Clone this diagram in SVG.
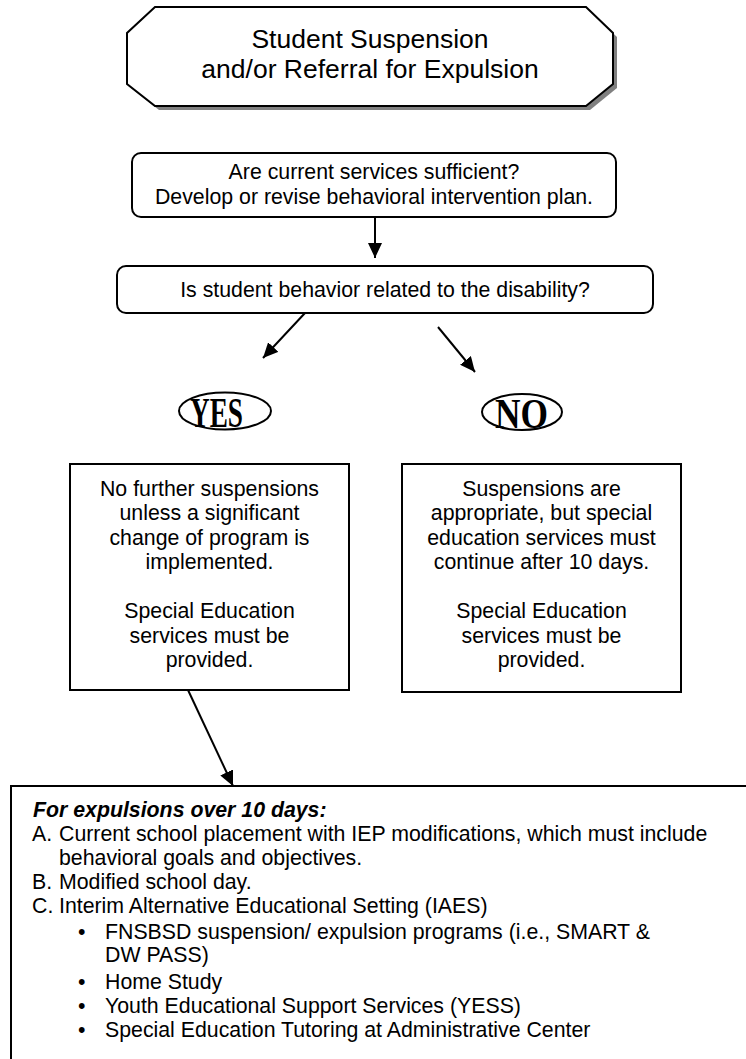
<svg xmlns="http://www.w3.org/2000/svg" width="746" height="1059" viewBox="0 0 746 1059">
<style>
.t{font-family:"Liberation Sans",Arial,sans-serif;font-size:21.3px;fill:#000}
.c{text-anchor:middle}
.title{font-family:"Liberation Sans",Arial,sans-serif;font-size:26.5px;fill:#000;text-anchor:middle}
.yn{font-family:"Liberation Serif","Times New Roman",serif;font-weight:bold;font-size:42px;fill:#000}
.box{fill:#fff;stroke:#000;stroke-width:2}
.ln{stroke:#000;stroke-width:2;fill:none}
</style>
<defs>
<marker id="ah" markerUnits="userSpaceOnUse" markerWidth="16" markerHeight="14" refX="15" refY="7" orient="auto">
<path d="M0,0 L15,7 L0,14 Z" fill="#000"/>
</marker>
</defs>
<rect width="746" height="1059" fill="#fff"/>
<g id="title">
<polygon points="159,11 590,11 617,37 617,88 590,110 159,110 131,88 131,37" fill="#808080"/>
<polygon class="box" points="155,7 586,7 613,33 613,84 586,106 155,106 127,84 127,33"/>
<text class="title" x="370" y="48">Student Suspension</text>
<text class="title" x="370" y="78">and/or Referral for Expulsion</text>
</g>
<g id="services">
<rect class="box" x="132" y="153" width="484" height="64" rx="9"/>
<text class="t c" x="374" y="179">Are current services sufficient?</text>
<text class="t c" x="374" y="204">Develop or revise behavioral intervention plan.</text>
</g>
<g id="related">
<rect class="box" x="117" y="266" width="536" height="47" rx="9"/>
<text class="t c" x="385" y="297">Is student behavior related to the disability?</text>
</g>
<g id="yes">
<ellipse class="box" cx="225" cy="411" rx="46" ry="18.5"/>
<text class="yn" x="190" y="427" textLength="53" lengthAdjust="spacingAndGlyphs">YES</text>
</g>
<g id="no">
<ellipse class="box" cx="522" cy="412" rx="40" ry="18"/>
<text class="yn" x="495" y="428" textLength="53" lengthAdjust="spacingAndGlyphs">NO</text>
</g>
<g id="yes-box">
<rect class="box" x="70" y="464" width="279" height="226"/>
<text class="t c" x="209.5" y="495.5">No further suspensions</text>
<text class="t c" x="209.5" y="520">unless a significant</text>
<text class="t c" x="209.5" y="544.5">change of program is</text>
<text class="t c" x="209.5" y="569">implemented.</text>
<text class="t c" x="209.5" y="618">Special Education</text>
<text class="t c" x="209.5" y="642.5">services must be</text>
<text class="t c" x="209.5" y="667">provided.</text>
</g>
<g id="no-box">
<rect class="box" x="402" y="464" width="279" height="228"/>
<text class="t c" x="541.5" y="495.5">Suspensions are</text>
<text class="t c" x="541.5" y="520">appropriate, but special</text>
<text class="t c" x="541.5" y="544.5">education services must</text>
<text class="t c" x="541.5" y="569">continue after 10 days.</text>
<text class="t c" x="541.5" y="618">Special Education</text>
<text class="t c" x="541.5" y="642.5">services must be</text>
<text class="t c" x="541.5" y="667">provided.</text>
</g>
<g id="expulsion">
<rect class="box" x="11" y="786" width="740" height="290"/>
<text class="t" x="33" y="817" font-weight="bold" font-style="italic">For expulsions over 10 days:</text>
<text class="t" x="32" y="841">A.</text>
<text class="t" x="59" y="841">Current school placement with IEP modifications, which must include</text>
<text class="t" x="59" y="865">behavioral goals and objectives.</text>
<text class="t" x="32" y="889">B.</text>
<text class="t" x="59" y="889">Modified school day.</text>
<text class="t" x="32" y="913">C.</text>
<text class="t" x="59" y="913">Interim Alternative Educational Setting (IAES)</text>
<text class="t" x="78" y="939">•</text>
<text class="t" x="105" y="939">FNSBSD suspension/ expulsion programs (i.e., SMART &amp;</text>
<text class="t" x="105" y="962">DW PASS)</text>
<text class="t" x="78" y="989">•</text>
<text class="t" x="105" y="989">Home Study</text>
<text class="t" x="78" y="1013">•</text>
<text class="t" x="105" y="1013">Youth Educational Support Services (YESS)</text>
<text class="t" x="78" y="1037">•</text>
<text class="t" x="105" y="1037">Special Education Tutoring at Administrative Center</text>
</g>
<g id="connectors">
<line class="ln" x1="375" y1="217" x2="375" y2="258" marker-end="url(#ah)"/>
<line class="ln" x1="305" y1="313" x2="263" y2="358" marker-end="url(#ah)"/>
<line class="ln" x1="438" y1="327" x2="475" y2="372" marker-end="url(#ah)"/>
<line class="ln" x1="188" y1="690" x2="233" y2="786" marker-end="url(#ah)"/>
</g>
</svg>
